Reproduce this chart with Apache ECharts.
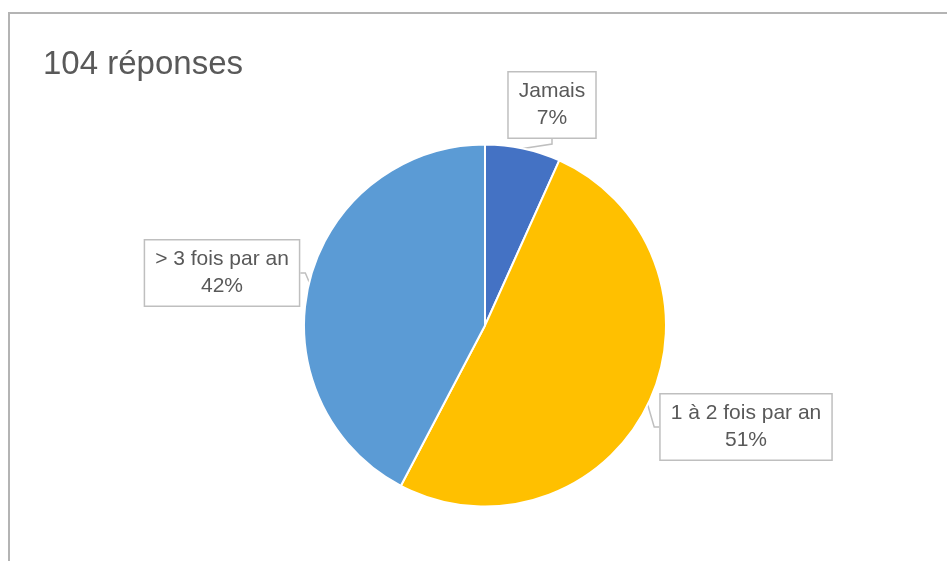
<!DOCTYPE html>
<html>
<head>
<meta charset="utf-8">
<script src="https://cdn.jsdelivr.net/npm/echarts@6/dist/echarts.min.js"></script>
<style>
html,body{margin:0;padding:0;background:#fff;}
#c{width:947px;height:561px;}
</style>
</head>
<body>
<div id="c"></div>
<script>
var categories = ['Jamais', '1 à 2 fois par an', '> 3 fois par an'];
var counts = [7, 53, 44];
var percentLabels = ['7%', '51%', '42%'];
var colors = ['#4472C4', '#FFC000', '#5B9BD5'];
var titleText = '104 réponses';

// label box centres (layout only)
var labelPos = [[552, 105], [746, 427], [222, 273]];

var chart = echarts.init(document.getElementById('c'));
var font = '"Liberation Sans", Arial, sans-serif';
chart.setOption({
  animation: false,
  graphic: [{
    type: 'rect',
    shape: {x: 9, y: 13, width: 1000, height: 700},
    style: {fill: 'none', stroke: '#b4b4b4', lineWidth: 2},
    silent: true
  }],
  title: {
    text: titleText,
    left: 38, top: 43,
    textStyle: {fontFamily: font, fontSize: 33, fontWeight: 'normal', color: '#595959'}
  },
  series: [{
    type: 'pie',
    center: [485, 325.5],
    radius: [0, 181],
    startAngle: 90,
    clockwise: true,
    itemStyle: {borderColor: '#fff', borderWidth: 2},
    data: categories.map(function (c, i) {
      return {name: c, value: counts[i], itemStyle: {color: colors[i]}};
    }),
    label: {
      show: true,
      position: 'outside',
      formatter: function (p) { return p.name + '\n' + percentLabels[p.dataIndex]; },
      fontFamily: font,
      fontSize: 21,
      lineHeight: 27,
      color: '#595959',
      align: 'center',
      backgroundColor: '#fff',
      borderColor: '#bfbfbf',
      borderWidth: 1.5,
      padding: [8, 10, 3, 10]
    },
    labelLine: {show: true, length: 5, length2: 5, lineStyle: {color: '#bfbfbf', width: 1.5}},
    labelLayout: function (p) {
      var pos = labelPos[p.dataIndex];
      return {x: pos[0], y: pos[1], align: 'center', verticalAlign: 'middle'};
    }
  }]
});
</script>
</body>
</html>
